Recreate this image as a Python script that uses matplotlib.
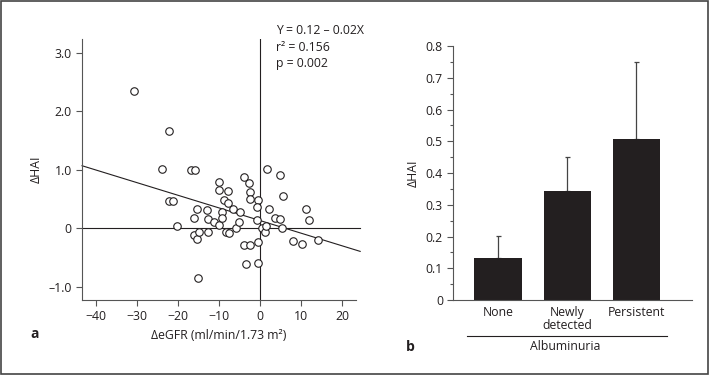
import matplotlib
matplotlib.use('Agg')
import matplotlib.pyplot as plt
from matplotlib.patches import Rectangle
import numpy as np

plt.rcParams['font.family'] = ['Open Sans', 'DejaVu Sans']
plt.rcParams['font.size'] = 8.8

# panel a: scatter of delta eGFR vs delta HAI
d_egfr = [-30.7, -22.1, -23.9, -16.7, -15.9, -22.1, -21.2, -20.2, -16.2, -15.4,
          -16.2, -15.4, -14.8, -15.1, -13.0, -12.7, -12.7, -11.2, -10.0, -10.1,
          -9.9, -9.4, -9.2, -8.8, -7.9, -7.8, -8.3, -7.7, -6.5, -5.9,
          -5.1, -4.9, -3.9, -4.0, -3.4, -2.8, -2.4, -2.4, -2.4, -0.6,
          -0.7, -0.7, -0.6, -0.6, 0.4, 1.1, 1.4, 1.6, 2.1, 3.7,
          4.7, 4.7, 5.3, 5.5, 7.9, 10.2, 11.1, 11.9, 14.0]
d_hai = [2.35, 1.66, 1.02, 0.99, 0.99, 0.46, 0.46, 0.03, 0.18, 0.33,
         -0.11, -0.18, -0.07, -0.85, 0.31, 0.15, -0.06, 0.11, 0.79, 0.66,
         0.05, 0.27, 0.17, 0.48, 0.64, 0.43, -0.06, -0.09, 0.33, 0.00,
         0.11, 0.27, 0.87, -0.28, -0.62, 0.77, 0.62, 0.50, -0.28, 0.48,
         0.36, 0.14, -0.23, -0.59, 0.00, -0.07, 0.03, 1.02, 0.33, 0.17,
         0.15, 0.91, 0.00, 0.55, -0.22, -0.27, 0.33, 0.14, -0.20]
fit_intercept = 0.13
fit_slope = -0.0217
stats_lines = ['Y = 0.12 – 0.02X', 'r² = 0.156', 'p = 0.002']
xticks_a = [-40, -30, -20, -10, 0, 10, 20]
yticks_a = [-1.0, 0, 1.0, 2.0, 3.0]
ytick_labels_a = ['–1.0', '0', '1.0', '2.0', '3.0']

# panel b: bar chart by albuminuria group
groups = ['None', 'Newly\ndetected', 'Persistent']
mean_hai = [0.131, 0.344, 0.506]
err_hai = [0.071, 0.105, 0.243]
yticks_b = [0, 0.1, 0.2, 0.3, 0.4, 0.5, 0.6, 0.7, 0.8]
ytick_labels_b = ['0', '0.1', '0.2', '0.3', '0.4', '0.5', '0.6', '0.7', '0.8']

ink = '#231f20'
spine_c = '#555555'

fig = plt.figure(figsize=(7.09, 3.75), dpi=100)

# ---- panel a
ax = fig.add_axes([0.1157, 0.2, 0.3865, 0.696])
xlo, xhi = -43.3, 23.3
ax.set_xlim(xlo, xhi)
ax.set_ylim(-1.23, 3.24)
ax.plot(d_egfr, d_hai, 'o', ms=5.4, mfc='white', mec=ink, mew=0.8, zorder=3)
xx = np.array([xlo, 24.3])
ax.plot(xx, fit_intercept + fit_slope * xx, color=ink, lw=0.8, clip_on=False)
ax.plot([xlo, 24.3], [0, 0], color=ink, lw=0.8, clip_on=False)
ax.axvline(0, color=ink, lw=0.8)
ax.set_xticks(xticks_a)
ax.set_yticks(yticks_a)
ax.set_yticklabels(ytick_labels_a)
for s in ['top', 'right']:
    ax.spines[s].set_visible(False)
for s in ['left', 'bottom']:
    ax.spines[s].set_color(spine_c)
    ax.spines[s].set_linewidth(0.8)
ax.tick_params(colors=spine_c, labelcolor=ink, length=4, width=0.8)
ax.set_ylabel('ΔHAI', color=ink, labelpad=4)
ax.set_xlabel('ΔeGFR (ml/min/1.73 m²)', color=ink, labelpad=4)
for i, t in enumerate(stats_lines):
    fig.text(0.389, 0.918 - i * 0.0435, t, va='center', ha='left', color=ink)
fig.text(0.043, 0.109, 'a', fontweight='bold', fontsize=10, va='center', color=ink)

# ---- panel b
bx = fig.add_axes([0.6394, 0.2, 0.3363, 0.6773])
pos = np.arange(len(groups))
bx.bar(pos, mean_hai, width=0.69, color=ink, zorder=2)
bx.errorbar(pos, mean_hai, yerr=[np.zeros(len(err_hai)), err_hai], fmt='none',
            ecolor='#444444', elinewidth=0.9, capsize=1.8, capthick=0.9, zorder=1)
bx.set_xlim(-0.65, 2.8)
bx.set_ylim(0, 0.8)
bx.set_yticks(yticks_b)
bx.set_yticklabels(ytick_labels_b)
bx.set_yticks(np.arange(0.05, 0.8, 0.1), minor=True)
bx.set_xticks(pos)
bx.set_xticklabels(groups, linespacing=1.0)
for s in ['top', 'right']:
    bx.spines[s].set_visible(False)
for s in ['left', 'bottom']:
    bx.spines[s].set_color(spine_c)
    bx.spines[s].set_linewidth(0.8)
bx.tick_params(axis='y', colors=spine_c, labelcolor=ink, length=4, width=0.8)
bx.tick_params(axis='y', which='minor', colors=spine_c, length=2.5, width=0.8)
bx.tick_params(axis='x', length=0, labelcolor=ink, pad=4)
bx.set_ylabel('ΔHAI', color=ink, labelpad=4)
fig.add_artist(plt.Line2D([466.7 / 709, 666.7 / 709], [1 - 335.7 / 375] * 2,
                          color=ink, lw=0.8))
fig.text(565 / 709, 1 - 346.7 / 375, 'Albuminuria', ha='center', va='center', color=ink)
fig.text(406 / 709, 1 - 346.7 / 375, 'b', fontweight='bold', fontsize=10, va='center', color=ink)

# outer frame
fig.add_artist(Rectangle((0.001, 0.002), 0.997, 0.995, transform=fig.transFigure,
                         fill=False, ec='#444444', lw=1.2))

fig.savefig('out.png', dpi=100)
